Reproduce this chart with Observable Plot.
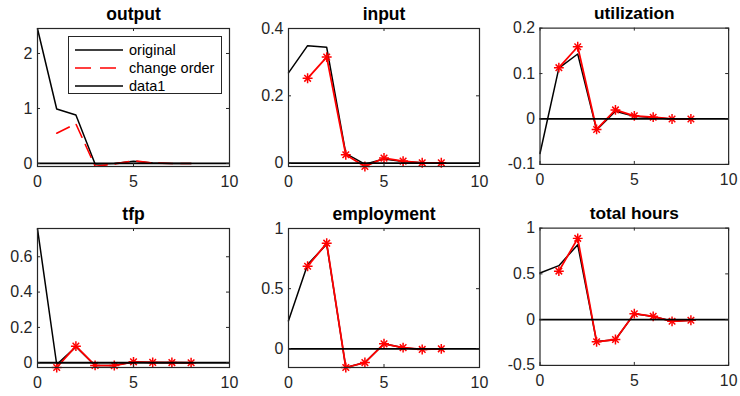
<!DOCTYPE html>
<html>
<head>
<meta charset="utf-8">
<script src="https://cdn.jsdelivr.net/npm/d3@7"></script>
<script src="https://cdn.jsdelivr.net/npm/@observablehq/plot@0.6"></script>
<style>
  body { margin: 0; background: #fff; }
  #root { position: relative; width: 740px; height: 396px; overflow: hidden; background: #fff;
          font-family: "Liberation Sans", Arial, Helvetica, sans-serif; }
  .panel { position: absolute; }
  .legend { position: absolute; left: 68px; top: 36px; width: 152px; height: 56px;
            border: 1px solid #262626; background: #fff; font-size: 14.5px; color: #000; }
  .legend .row { position: absolute; left: 6px; height: 18px; display: flex; align-items: center; }
  .legend .row svg { width: 48px; height: 18px; }
  .legend .row span { margin-left: 6px; white-space: nowrap; }
</style>
</head>
<body>
<div id="root"></div>
<script>
// ---- data ----
const steps = [0, 1, 2, 3, 4, 5, 6, 7, 8];          // horizon for "original"
const altSteps = [1, 2, 3, 4, 5, 6, 7, 8];          // horizon for "change order"
const xTicks = [0, 5, 10];
const titles = ["output", "input", "utilization", "tfp", "employment", "total hours"];
const legendLabels = ["original", "change order", "data1"];

const outputOriginal = [2.45, 0.99, 0.88, -0.01, 0.0, 0.04, 0.01, 0.0, 0.0];
const outputChange   = [0.55, 0.72, -0.05, -0.01, 0.05, 0.01, 0.0, 0.0];
const inputOriginal  = [0.268, 0.349, 0.344, 0.028, -0.003, 0.012, 0.005, 0.001, 0.0];
const inputChange    = [0.252, 0.315, 0.025, -0.01, 0.015, 0.006, 0.001, 0.001];
const utilOriginal   = [-0.076, 0.112, 0.143, -0.024, 0.017, 0.006, 0.003, 0.0, 0.0];
const utilChange     = [0.113, 0.159, -0.023, 0.02, 0.007, 0.004, 0.0, 0.0];
const tfpOriginal    = [0.758, -0.01, 0.09, -0.016, -0.015, 0.004, 0.002, 0.001, 0.0];
const tfpChange      = [-0.027, 0.094, -0.015, -0.016, 0.005, 0.002, 0.001, 0.0];
const empOriginal    = [0.233, 0.70, 0.87, -0.155, -0.114, 0.042, 0.01, -0.005, 0.0];
const empChange      = [0.686, 0.878, -0.155, -0.114, 0.042, 0.01, -0.005, 0.0];
const hoursOriginal  = [0.51, 0.59, 0.818, -0.24, -0.22, 0.065, 0.035, -0.018, -0.007];
const hoursChange    = [0.53, 0.888, -0.242, -0.217, 0.065, 0.036, -0.018, -0.007];

const yTicksList = [[0, 1, 2], [0, 0.2, 0.4], [-0.1, 0, 0.1, 0.2], [0, 0.2, 0.4, 0.6], [0, 0.5, 1], [-0.5, 0, 0.5, 1]];
const yDomains = [[-0.055, 2.454], [-0.01, 0.4], [-0.1, 0.2], [-0.027, 0.76], [-0.155, 1], [-0.5, 1]];
const originals = [outputOriginal, inputOriginal, utilOriginal, tfpOriginal, empOriginal, hoursOriginal];
const changes = [outputChange, inputChange, utilChange, tfpChange, empChange, hoursChange];

// ---- layout ----
const colLeft = [37, 288, 540], colRight = [229, 479, 731];
const rowTop = [28, 228], rowBottom = [166, 367];
const mL = 40, mT = 30, mR = 12, mB = 30;
const axisColor = "#262626";
const font = '"Liberation Sans", Arial, Helvetica, sans-serif';

const root = document.getElementById("root");

titles.forEach((title, i) => {
  const col = i % 3, row = Math.floor(i / 3);
  const innerW = colRight[col] - colLeft[col];
  const innerH = rowBottom[row] - rowTop[row];
  const orig = steps.map((x, k) => ({x, y: originals[i][k]}));
  const alt = altSteps.map((x, k) => ({x, y: changes[i][k]}));
  const dashed = i === 0;
  const yTicks = yTicksList[i];

  const chart = Plot.plot({
    width: mL + innerW + mR,
    height: mT + innerH + mB,
    marginLeft: mL, marginRight: mR, marginTop: mT, marginBottom: mB,
    x: {domain: [0, 10], label: null},
    y: {domain: yDomains[i], label: null},
    style: {fontFamily: font, fontSize: "16px", color: axisColor, background: "transparent", overflow: "visible"},
    marks: [
      Plot.lineY(orig, {x: "x", y: "y", stroke: "#000", strokeWidth: 1.5}),
      Plot.lineY(alt, {x: "x", y: "y", stroke: "#ff0000", strokeWidth: dashed ? 1.6 : 1.8,
                       strokeDasharray: dashed ? "14,8" : null}),
      dashed ? null : Plot.dot(alt, {x: "x", y: "y", symbol: "plus", r: 3.3, stroke: "#ff0000", strokeWidth: 1.5}),
      dashed ? null : Plot.dot(alt, {x: "x", y: "y", symbol: "times", r: 3.1, stroke: "#ff0000", strokeWidth: 1.5}),
      Plot.ruleY([0], {stroke: "#000", strokeWidth: 1.8}),
      Plot.frame({stroke: axisColor, strokeWidth: 1.2}),
      Plot.tickX(xTicks, {x: d => d, insetTop: innerH - 3, stroke: axisColor}),
      Plot.tickX(xTicks, {x: d => d, insetBottom: innerH - 3, stroke: axisColor}),
      Plot.tickY(yTicks, {y: d => d, insetRight: innerW - 3, stroke: axisColor}),
      Plot.tickY(yTicks, {y: d => d, insetLeft: innerW - 3, stroke: axisColor}),
      Plot.axisX({ticks: xTicks, tickSize: 0, tickPadding: 9, tickFormat: d => String(d)}),
      Plot.axisY({ticks: yTicks, tickSize: 0, tickPadding: 5, tickFormat: d => String(d)}),
      Plot.text([title], {text: d => d, frameAnchor: "top", dy: -9, lineAnchor: "bottom",
                          fontWeight: "bold", fontSize: 17.5, fill: "#000"})
    ]
  });
  const div = document.createElement("div");
  div.className = "panel";
  div.style.left = (colLeft[col] - mL) + "px";
  div.style.top = (rowTop[row] - mT) + "px";
  div.appendChild(chart);
  root.appendChild(div);
});

// ---- legend (in the "output" axes) ----
const legend = document.createElement("div");
legend.className = "legend";
const legendStyles = [
  {stroke: "#000", dash: null},
  {stroke: "#ff0000", dash: "16,9"},
  {stroke: "#000", dash: null}
];
legendLabels.forEach((label, k) => {
  const rowEl = document.createElement("div");
  rowEl.className = "row";
  rowEl.style.top = (3.5 + k * 18.3) + "px";
  const svg = d3.create("svg").attr("width", 48).attr("height", 18);
  svg.append("line").attr("x1", 0).attr("x2", 48).attr("y1", 9).attr("y2", 9)
    .attr("stroke", legendStyles[k].stroke).attr("stroke-width", 1.6)
    .attr("stroke-dasharray", legendStyles[k].dash);
  rowEl.appendChild(svg.node());
  const span = document.createElement("span");
  span.textContent = label;
  rowEl.appendChild(span);
  legend.appendChild(rowEl);
});
root.appendChild(legend);
</script>
</body>
</html>
